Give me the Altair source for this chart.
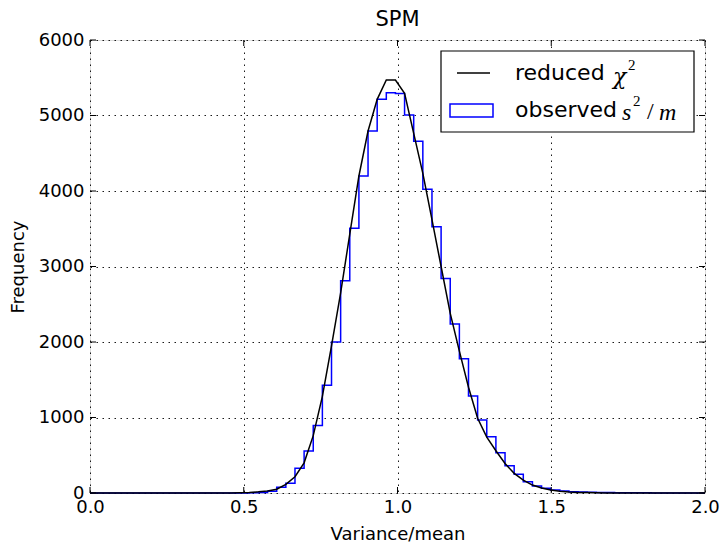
import altair as alt
import pandas as pd

# ---------------- data ----------------
bin_left = 0.5181      # left edge of first listed bin
bin_width = 0.0297
counts = [3, 8, 22, 75, 130, 327, 556, 895, 1426, 2000, 2812, 3505, 4199, 4795,
          5214, 5300, 5290, 5007, 4660, 4022, 3527, 2840, 2238, 1779, 1285, 967,
          746, 534, 362, 248, 150, 93, 62, 40, 26, 17, 12, 9, 7, 5, 4, 3, 2, 2,
          1, 1, 1, 1, 0]

# reduced chi^2 curve, sampled at the bin edges (starting 3 bins before bin_left)
curve_start = 0.4290
curve_vals = [0, 1, 3, 7, 15, 28, 50, 115, 215, 400, 760, 1280, 1950, 2650, 3430,
              4199, 4795, 5214, 5470, 5470, 5294, 4764, 4234, 3620, 3000, 2380,
              1880, 1400, 990, 740, 560, 390, 260, 170, 105, 66, 40, 24, 14, 8,
              5, 3, 1, 0]

x_ticks = [0.0, 0.5, 1.0, 1.5, 2.0]
y_ticks = [0, 1000, 2000, 3000, 4000, 5000, 6000]

W, H = 615, 453
FONT = "DejaVu Sans"
BLUE = "#0000ff"

# ---------------- tables ----------------
hx, hy = [0.0], [0]
for i, c in enumerate(counts):
    hx.append(bin_left + i * bin_width)
    hy.append(c)
hx.append(bin_left + len(counts) * bin_width)
hy.append(0)
hx.append(2.0)
hy.append(0)
hist_df = pd.DataFrame({"x": hx, "y": hy, "o": range(len(hx))})

cx = [0.0] + [curve_start + i * bin_width for i in range(len(curve_vals))] + [2.0]
cy = [0] + curve_vals + [0]
curve_df = pd.DataFrame({"x": cx, "y": cy, "o": range(len(cx))})

xs = alt.Scale(domain=[0, 2], nice=False)
ys = alt.Scale(domain=[0, 6000], nice=False)

x_axis = alt.Axis(values=x_ticks, format=".1f", title="Variance/mean", grid=True,
                  gridDash=[1.5, 4.5], gridColor="black", gridWidth=0.9,
                  gridOpacity=1, ticks=False, domain=False, labelPadding=5,
                  labelFontSize=18, labelFont=FONT, labelColor="black",
                  titleFont=FONT, titleFontSize=18, titleFontWeight="normal",
                  titleColor="black", titlePadding=9, labelFlush=False)
y_axis = alt.Axis(values=y_ticks, format="d", title="Frequency", grid=True,
                  gridDash=[1.5, 4.5], gridColor="black", gridWidth=0.9,
                  gridOpacity=1, ticks=False, domain=False, labelPadding=6,
                  labelFontSize=18, labelFont=FONT, labelColor="black",
                  titleFont=FONT, titleFontSize=18, titleFontWeight="normal",
                  titleColor="black", titlePadding=11, labelFlush=False)

hist = alt.Chart(hist_df).mark_line(interpolate="step-after", color=BLUE,
                                    strokeWidth=1.5).encode(
    x=alt.X("x:Q", scale=xs, axis=x_axis),
    y=alt.Y("y:Q", scale=ys, axis=y_axis),
    order="o:Q",
)

curve = alt.Chart(curve_df).mark_line(color="black", strokeWidth=1.5).encode(
    x=alt.X("x:Q", scale=xs),
    y=alt.Y("y:Q", scale=ys),
    order="o:Q",
)

# inward ticks on all four sides
xt = pd.DataFrame({"v": x_ticks})
yt = pd.DataFrame({"v": y_ticks})
tick_style = dict(color="black", strokeWidth=1)
xb = alt.Chart(xt).mark_rule(**tick_style).encode(
    x=alt.X("v:Q", scale=xs), y=alt.value(H), y2=alt.value(H - 6))
xtop = alt.Chart(xt).mark_rule(**tick_style).encode(
    x=alt.X("v:Q", scale=xs), y=alt.value(0), y2=alt.value(6))
yl = alt.Chart(yt).mark_rule(**tick_style).encode(
    y=alt.Y("v:Q", scale=ys), x=alt.value(0), x2=alt.value(6))
yr = alt.Chart(yt).mark_rule(**tick_style).encode(
    y=alt.Y("v:Q", scale=ys), x=alt.value(W), x2=alt.value(W - 6))

# ---------------- legend (drawn by hand) ----------------
one = pd.DataFrame({"a": [0]})
lg_box = alt.Chart(one).mark_rect(fill="white", stroke="black", strokeWidth=1.2).encode(
    x=alt.value(351), x2=alt.value(604), y=alt.value(11), y2=alt.value(92))
lg_line = alt.Chart(one).mark_rule(color="black", strokeWidth=1.5).encode(
    x=alt.value(367), x2=alt.value(400), y=alt.value(33))
lg_rect = alt.Chart(one).mark_rect(fillOpacity=0, stroke=BLUE, strokeWidth=1.5).encode(
    x=alt.value(360), x2=alt.value(403), y=alt.value(64), y2=alt.value(77))


def txt(s, x, y, size=22, font=FONT, style="normal"):
    return alt.Chart(pd.DataFrame({"t": [s]})).mark_text(
        align="left", baseline="middle", fontSize=size, font=font,
        fontStyle=style, color="black").encode(
        text="t:N", x=alt.value(x), y=alt.value(y))


SERIF = "Liberation Serif"
legend_texts = [
    txt("reduced", 425, 33),
    txt("χ", 523, 37, size=22, font="DejaVu Serif", style="italic"),
    txt("2", 538, 25, size=15, font=SERIF),
    txt("observed", 425, 70),
    txt("s", 532, 73, size=24, font=SERIF, style="italic"),
    txt("2", 543, 61, size=15, font=SERIF),
    txt("/", 557, 72, size=24, font=SERIF),
    txt("m", 569, 73, size=24, font=SERIF, style="italic"),
]

chart = alt.layer(
    hist, curve, xb, xtop, yl, yr, lg_box, lg_line, lg_rect, *legend_texts
).properties(
    width=W, height=H,
    title=alt.TitleParams("SPM", font=FONT, fontSize=21, fontWeight="normal",
                          color="black", offset=1),
    autosize=alt.AutoSizeParams(type="none"),
    padding={"left": 90, "top": 40, "right": 17, "bottom": 49},
).configure_view(stroke="black", strokeWidth=1.2).configure(background="white")

chart.save("out.html", embed_options={"renderer": "svg", "actions": False})
